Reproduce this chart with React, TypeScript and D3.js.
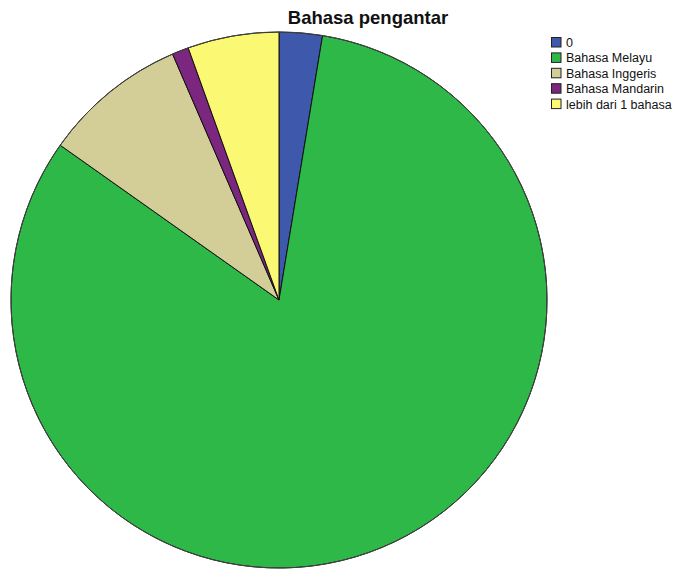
import React from "react";
import * as d3 from "d3";

const categories = ["0", "Bahasa Melayu", "Bahasa Inggeris", "Bahasa Mandarin", "lebih dari 1 bahasa"];
const values = [2.6, 82.2, 8.7, 1.0, 5.5];
const colors = ["#3e58ac", "#2eb848", "#d3ce97", "#7b277f", "#fbf873"];
const title = "Bahasa pengantar";

export default function App() {
  const W = 681, H = 569;
  const cx = 279, cy = 300, r = 268;
  const pie = d3.pie<number>().sort(null).value((d) => d)(values);
  const arc = d3.arc<d3.PieArcDatum<number>>().innerRadius(0).outerRadius(r);
  return (
    <svg width={W} height={H} style={{ position: "absolute", left: 0, top: 0, background: "#fff" }}
      fontFamily="'Liberation Sans', Arial, sans-serif">
      <text x={368} y={24} textAnchor="middle" fontSize={18.5} fontWeight="bold" fill="#111">{title}</text>
      <g transform={`translate(${cx},${cy})`}>
        {pie.map((p, i) => (
          <path key={i} d={arc(p) || ""} fill={colors[i]} stroke="#111" strokeWidth={1} strokeLinejoin="round" />
        ))}
        <circle r={r} fill="none" stroke="#444" strokeWidth={1} />
      </g>
      <g transform="translate(551,37)">
        {categories.map((c, i) => (
          <g key={c} transform={`translate(0,${i * 15.4})`}>
            <rect x={0.5} y={0.5} width={9.5} height={9.5} fill={colors[i]} stroke="#222" strokeWidth={1} />
            <text x={15} y={10} fontSize={12.5} fill="#111">{c}</text>
          </g>
        ))}
      </g>
    </svg>
  );
}
